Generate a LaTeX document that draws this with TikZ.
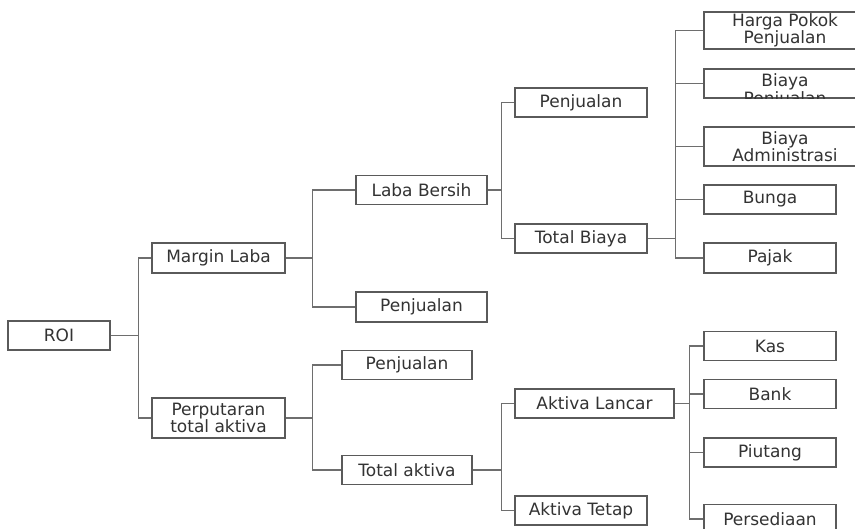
\documentclass[tikz,border=0pt]{standalone}
\usepackage{fontspec}
\setmainfont{DejaVu Sans}
\definecolor{boxline}{HTML}{5A5A5A}
\definecolor{linkline}{HTML}{6E6E6E}
\definecolor{labeltext}{HTML}{333333}
\begin{document}
\begin{tikzpicture}[x=0.03cm, y=-0.03cm,
		kotak/.style={draw=boxline, line width=0.9pt, fill=white, text=labeltext, align=center,
			inner sep=0pt, minimum width=3.96cm, minimum height=0.87cm,
			font=\fontsize{14.5}{13.6}\selectfont},
		cabang/.style={draw=linkline, line width=0.9pt}]

		\useasboundingbox (0,0) rectangle (855,529);

		% Akar
		\node[kotak, minimum width=3.06cm] (roi) at (59,335.5) {ROI};

		% Tingkat 1
		\node[kotak, minimum width=3.99cm, minimum height=0.9cm] (margin) at (218.5,258) {Margin Laba};
		\node[kotak, minimum width=3.99cm, minimum height=1.2cm] (putar) at (218.5,418) {Perputaran\\total aktiva};

		% Tingkat 2
		\node[kotak, minimum width=3.93cm] (laba) at (421.5,190) {Laba Bersih};
		\node[kotak, minimum width=3.93cm, minimum height=0.9cm] (jual1) at (421.5,307) {Penjualan};
		\node[kotak, minimum width=3.9cm] (jual2) at (407,365) {Penjualan};
		\node[kotak, minimum width=3.9cm] (totakt) at (407,470) {Total aktiva};

		% Tingkat 3
		\node[kotak] (jual3) at (581,102.5) {Penjualan};
		\node[kotak] (totbiaya) at (581,238.5) {Total Biaya};
		\node[kotak, minimum width=4.77cm] (lancar) at (594.5,403.5) {Aktiva Lancar};
		\node[kotak] (tetap) at (581,510.5) {Aktiva Tetap};

		% Tingkat 4 - biaya
		\node[kotak, minimum width=4.86cm, minimum height=1.11cm] (hpp) at (785,30.5) {Harga Pokok\\Penjualan};
		\node[kotak, minimum width=4.86cm] (bjual) at (785,83.5) {};
		\begin{scope}
			\clip (bjual.north west) rectangle (bjual.south east);
			\node[text=labeltext, align=center, inner sep=0pt, font=\fontsize{14.5}{13.6}\selectfont] (bjualteks) at (785,91) {Biaya\\Penjualan};
		\end{scope}
		\node[kotak, minimum width=4.86cm, minimum height=1.17cm] (badm) at (785,146.5) {Biaya\\Administrasi};
		\node[kotak] (bunga) at (770,199.5) {Bunga};
		\node[kotak, minimum height=0.9cm] (pajak) at (770,258) {Pajak};

		% Tingkat 4 - aktiva lancar
		\node[kotak] (kas) at (770,346) {Kas};
		\node[kotak] (bank) at (770,394) {Bank};
		\node[kotak] (piutang) at (770,452.5) {Piutang};
		\node[kotak] (sedia) at (770,519) {Persediaan};

		% Garis cabang
		\foreach \anak in {margin,putar}
			\draw[cabang] (roi.east) -- ++(28,0) |- (\anak.west);
		\foreach \anak in {laba,jual1}
			\draw[cabang] (margin.east) -- ++(27,0) |- (\anak.west);
		\foreach \anak in {jual2,totakt}
			\draw[cabang] (putar.east) -- ++(27,0) |- (\anak.west);
		\foreach \anak in {jual3,totbiaya}
			\draw[cabang] (laba.east) -- ++(14,0) |- (\anak.west);
		\foreach \anak in {lancar,tetap}
			\draw[cabang] (totakt.east) -- ++(29,0) |- (\anak.west);
		\foreach \anak in {hpp,bjual,badm,bunga,pajak}
			\draw[cabang] (totbiaya.east) -- ++(28,0) |- (\anak.west);
		\foreach \anak in {kas,bank,piutang,sedia}
			\draw[cabang] (lancar.east) -- ++(15,0) |- (\anak.west);

	\end{tikzpicture}
\end{document}
